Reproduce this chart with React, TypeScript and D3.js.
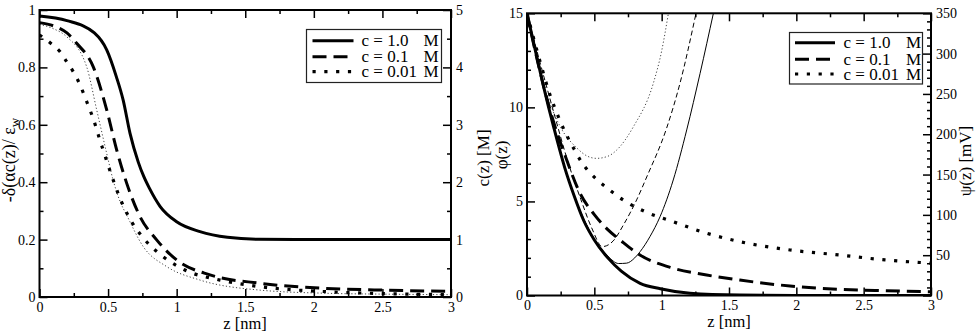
import React, { useEffect, useRef } from "react";
import * as d3 from "d3";

const W = 978;
const H = 334;
const FONT = "'Liberation Serif', 'Times New Roman', serif";

// ---------- left panel: dielectric decrement and concentration ----------
const zSolidL = [0, 0.2, 0.4, 0.49, 0.56, 0.61, 0.66, 0.72, 0.76, 0.8, 0.88, 1.0, 1.17, 1.37, 1.6, 2, 2.5, 3];
const epsSolid = [0.979, 0.963, 0.92, 0.861, 0.768, 0.686, 0.57, 0.47, 0.42, 0.38, 0.315, 0.262, 0.228, 0.208, 0.201, 0.2, 0.2, 0.2];

const zDashL = [0, 0.1, 0.2, 0.271, 0.392, 0.49, 0.563, 0.636, 0.733, 0.854, 1.0, 1.243, 1.607, 2.09, 2.5, 3];
const epsDash = [0.956, 0.945, 0.92, 0.884, 0.802, 0.652, 0.512, 0.396, 0.28, 0.199, 0.129, 0.077, 0.048, 0.03, 0.024, 0.02];

const zDotL = [0, 0.077, 0.149, 0.198, 0.246, 0.288, 0.324, 0.356, 0.388, 0.417, 0.441, 0.47, 0.497, 0.526, 0.587, 0.672, 0.769, 0.903, 1.06, 1.316, 1.607, 2.09, 2.5, 3];
const epsDot = [0.913, 0.886, 0.855, 0.82, 0.785, 0.747, 0.706, 0.666, 0.626, 0.584, 0.545, 0.504, 0.463, 0.423, 0.344, 0.262, 0.199, 0.14, 0.094, 0.059, 0.036, 0.0185, 0.012, 0.008];

const zThinL = [0, 0.1, 0.198, 0.344, 0.417, 0.49, 0.538, 0.59, 0.636, 0.757, 0.927, 1.17, 1.607, 2.09, 2.5, 3];
const epsThin = [0.95, 0.935, 0.907, 0.802, 0.652, 0.5, 0.405, 0.33, 0.285, 0.175, 0.106, 0.059, 0.024, 0.013, 0.01, 0.008];

// ---------- right panel: reduced potential ----------
const zSolidR = [0, 0.05, 0.12, 0.2, 0.28, 0.35, 0.42, 0.5, 0.6, 0.7, 0.84, 0.99, 1.21, 1.58, 2, 3];
const phiSolid = [15, 13.4, 11.2, 8.9, 6.8, 5.3, 4.0, 2.95, 2.0, 1.3, 0.65, 0.36, 0.12, 0.02, 0.0, 0.0];

const zDashR = [0, 0.08, 0.171, 0.295, 0.394, 0.5, 0.6, 0.7, 0.839, 1.086, 1.334, 1.58, 1.953, 2.324, 2.67, 3];
const phiDash = [15, 12.4, 9.86, 7.2, 5.43, 4.3, 3.5, 2.9, 2.15, 1.45, 1.09, 0.82, 0.505, 0.33, 0.255, 0.2];

const zDotR = [0, 0.097, 0.171, 0.233, 0.282, 0.356, 0.406, 0.46, 0.522, 0.592, 0.661, 0.889, 1.062, 1.334, 1.582, 1.953, 2.324, 2.66, 3];
const phiDot = [15, 12.43, 10.66, 9.5, 8.7, 7.7, 7.08, 6.58, 6.14, 5.73, 5.34, 4.42, 3.98, 3.31, 2.86, 2.42, 2.15, 1.89, 1.72];

const zThinSolidR = [0, 0.12, 0.2, 0.28, 0.35, 0.42, 0.5, 0.6, 0.68, 0.74, 0.8, 0.84, 0.913, 0.988, 1.086, 1.186, 1.285, 1.384];
const phiThinSolid = [15, 11.2, 8.9, 6.8, 5.3, 4.1, 3.0, 2.1, 1.7, 1.72, 2.0, 2.33, 3.13, 4.19, 6.14, 8.8, 11.8, 15];

const zThinDashR = [0, 0.1, 0.2, 0.3, 0.4, 0.48, 0.56, 0.64, 0.72, 0.814, 0.889, 1.037, 1.136, 1.255];
const phiThinDash = [15, 12.3, 9.7, 7.2, 5.1, 3.6, 2.6, 2.9, 3.8, 5.08, 6.3, 8.9, 11.28, 15];

const zThinDotR = [0, 0.047, 0.121, 0.245, 0.369, 0.45, 0.517, 0.6, 0.666, 0.79, 0.938, 1.0, 1.05];
const phiThinDot = [15, 13.4, 11.3, 9.0, 7.85, 7.4, 7.29, 7.4, 7.73, 8.97, 11.28, 13.0, 15];

// ---------- axes ----------
const zTicks = [0, 0.5, 1, 1.5, 2, 2.5, 3];
const zMinor = [0.25, 0.75, 1.25, 1.75, 2.25, 2.75];
const epsTicks = [0, 0.2, 0.4, 0.6, 0.8, 1];
const epsMinor = [0.1, 0.3, 0.5, 0.7, 0.9];
const cTicks = [0, 1, 2, 3, 4, 5];
const cMinor = [0.5, 1.5, 2.5, 3.5, 4.5];
const phiTicks = [0, 5, 10, 15];
const phiMinor = [1, 2, 3, 4, 6, 7, 8, 9, 11, 12, 13, 14];
const psiTicks = [0, 50, 100, 150, 200, 250, 300, 350];
const psiMinor = d3.range(10, 350, 10).filter((v) => v % 50 !== 0);

const legendLabels = ["c = 1.0", "c = 0.1", "c = 0.01"];
const legendUnit = "M";

type Sel = d3.Selection<SVGGElement, unknown, null, undefined>;

const styles = {
  solid: { w: 3, dash: null as string | null, color: "#000" },
  dash: { w: 3, dash: "14,7", color: "#000" },
  dot: { w: 3.2, dash: "3.2,8.6", color: "#000" },
  thinSolid: { w: 1, dash: null as string | null, color: "#000" },
  thinDash: { w: 1, dash: "5,3", color: "#000" },
  thinDot: { w: 1, dash: "1.2,2.2", color: "#444" },
};

function fmt(v: number) {
  return String(v);
}

function drawAxis(
  g: Sel,
  axisGen: d3.Axis<d3.NumberValue>,
  cls: string,
  transform: string
) {
  const a = g.append("g").attr("class", cls).attr("transform", transform).call(axisGen as any);
  a.attr("font-family", FONT).attr("font-size", 14);
  a.select(".domain").remove();
  a.selectAll("line").attr("stroke", "#000").attr("stroke-width", 1.5);
  a.selectAll("text").attr("fill", "#000");
  return a;
}

function frameAxes(
  g: Sel,
  x: d3.ScaleLinear<number, number>,
  yL: d3.ScaleLinear<number, number>,
  yR: d3.ScaleLinear<number, number>,
  yLTicks: number[],
  yLMinor: number[],
  yRTicks: number[],
  yRMinor: number[],
  padX: number
) {
  const [x0, x1] = x.range();
  const [yb, yt] = yL.range();
  const MAJ = 8;
  const MIN = 4;
  // bottom
  drawAxis(g, d3.axisBottom(x).tickValues(zTicks).tickSize(-MAJ).tickPadding(padX).tickFormat((d) => fmt(+d)), "xb", `translate(0,${yb})`);
  drawAxis(g, d3.axisBottom(x).tickValues(zMinor).tickSize(-MIN).tickFormat(() => ""), "xbm", `translate(0,${yb})`);
  // top
  drawAxis(g, d3.axisTop(x).tickValues(zTicks).tickSize(-MAJ).tickFormat(() => ""), "xt", `translate(0,${yt})`);
  drawAxis(g, d3.axisTop(x).tickValues(zMinor).tickSize(-MIN).tickFormat(() => ""), "xtm", `translate(0,${yt})`);
  // left
  drawAxis(g, d3.axisLeft(yL).tickValues(yLTicks).tickSize(-MAJ).tickPadding(4).tickFormat((d) => fmt(+d)), "yl", `translate(${x0},0)`);
  drawAxis(g, d3.axisLeft(yL).tickValues(yLMinor).tickSize(-MIN).tickFormat(() => ""), "ylm", `translate(${x0},0)`);
  // right
  drawAxis(g, d3.axisRight(yR).tickValues(yRTicks).tickSize(-MAJ).tickPadding(5).tickFormat((d) => fmt(+d)), "yr", `translate(${x1},0)`);
  drawAxis(g, d3.axisRight(yR).tickValues(yRMinor).tickSize(-MIN).tickFormat(() => ""), "yrm", `translate(${x1},0)`);
  // frame
  g.append("rect")
    .attr("x", x0)
    .attr("y", yt)
    .attr("width", x1 - x0)
    .attr("height", yb - yt)
    .attr("fill", "none")
    .attr("stroke", "#000")
    .attr("stroke-width", 2);
}

function drawCurve(
  g: Sel,
  x: d3.ScaleLinear<number, number>,
  y: d3.ScaleLinear<number, number>,
  xs: number[],
  ys: number[],
  st: { w: number; dash: string | null; color: string },
  clipId: string
) {
  const pts = xs.map((v, i) => [v, ys[i]] as [number, number]);
  const line = d3
    .line<[number, number]>()
    .x((d) => x(d[0]))
    .y((d) => y(d[1]))
    .curve(d3.curveMonotoneX);
  const p = g
    .append("path")
    .attr("d", line(pts))
    .attr("fill", "none")
    .attr("stroke", st.color)
    .attr("stroke-width", st.w)
    .attr("clip-path", `url(#${clipId})`);
  if (st.dash) p.attr("stroke-dasharray", st.dash);
}

function txt(g: Sel, x: number, y: number, size: number, s: string, anchor = "start") {
  return g
    .append("text")
    .attr("x", x)
    .attr("y", y)
    .attr("text-anchor", anchor)
    .attr("font-family", FONT)
    .attr("font-size", size)
    .attr("fill", "#000")
    .text(s);
}

function drawLegend(g: Sel, bx: number, by: number, bw: number, bh: number, lineX0: number, lineX1: number, textX: number, unitX: number, rowYs: number[]) {
  g.append("rect")
    .attr("x", bx)
    .attr("y", by)
    .attr("width", bw)
    .attr("height", bh)
    .attr("fill", "#fff")
    .attr("stroke", "#222")
    .attr("stroke-width", 1.2);
  const sts = [styles.solid, styles.dash, styles.dot];
  legendLabels.forEach((lab, i) => {
    const ly = rowYs[i];
    const l = g
      .append("line")
      .attr("x1", lineX0)
      .attr("x2", lineX1)
      .attr("y1", ly)
      .attr("y2", ly)
      .attr("stroke", "#000")
      .attr("stroke-width", sts[i].w);
    if (sts[i].dash) l.attr("stroke-dasharray", sts[i].dash);
    const t = g
      .append("text")
      .attr("y", ly + 5.5)
      .attr("font-family", FONT)
      .attr("font-size", 17)
      .attr("fill", "#000");
    t.append("tspan").attr("x", textX).text(lab);
    t.append("tspan").attr("x", unitX).attr("text-anchor", "end").text(legendUnit);
  });
}

function vLabel(g: Sel, x: number, y: number, size: number) {
  return g
    .append("text")
    .attr("transform", `translate(${x},${y}) rotate(-90)`)
    .attr("text-anchor", "middle")
    .attr("font-family", FONT)
    .attr("font-size", size)
    .attr("fill", "#000");
}

export default function App() {
  const ref = useRef<SVGSVGElement>(null);

  useEffect(() => {
    const svg = d3.select(ref.current!);
    svg.selectAll("*").remove();
    const root = svg.append("g") as unknown as Sel;
    const defs = svg.append("defs");

    // ----- left panel -----
    const xL = d3.scaleLinear().domain([0, 3]).range([39.5, 451]);
    const yEps = d3.scaleLinear().domain([0, 1]).range([297, 10]);
    const yC = d3.scaleLinear().domain([0, 5]).range([297, 10]);
    defs.append("clipPath").attr("id", "clipL").append("rect").attr("x", 39.5).attr("y", 10).attr("width", 411.5).attr("height", 287);

    const gL = root.append("g") as unknown as Sel;
    drawCurve(gL, xL, yEps, zThinL, epsThin, styles.thinDot, "clipL");
    drawCurve(gL, xL, yEps, zDotL, epsDot, styles.dot, "clipL");
    drawCurve(gL, xL, yEps, zDashL, epsDash, styles.dash, "clipL");
    drawCurve(gL, xL, yEps, zSolidL, epsSolid, styles.solid, "clipL");
    frameAxes(gL, xL, yEps, yC, epsTicks, epsMinor, cTicks, cMinor, 5);
    drawLegend(gL, 306.5, 29.5, 135, 53, 312.5, 353.5, 361.5, 438.5, [40.7, 56.7, 71.7]);

    const lblL = vLabel(gL, 15, 160, 18);
    lblL.append("tspan").text("-δ(αc(z)/ ε");
    lblL.append("tspan").attr("font-size", 13).attr("dy", 4).text("w");
    vLabel(gL, 489, 158, 17).text("c(z) [M]");
    txt(gL, 245, 328.5, 16.5, "z [nm]", "middle");

    // ----- right panel -----
    const xR = d3.scaleLinear().domain([0, 3]).range([527, 931]);
    const yPhi = d3.scaleLinear().domain([0, 15]).range([295.5, 13.3]);
    const yPsi = d3.scaleLinear().domain([0, 350]).range([295.5, 13.3]);
    defs.append("clipPath").attr("id", "clipR").append("rect").attr("x", 527).attr("y", 13.3).attr("width", 404).attr("height", 282.2);

    const gR = root.append("g") as unknown as Sel;
    drawCurve(gR, xR, yPhi, zThinDotR, phiThinDot, styles.thinDot, "clipR");
    drawCurve(gR, xR, yPhi, zThinDashR, phiThinDash, styles.thinDash, "clipR");
    drawCurve(gR, xR, yPhi, zThinSolidR, phiThinSolid, styles.thinSolid, "clipR");
    drawCurve(gR, xR, yPhi, zDotR, phiDot, styles.dot, "clipR");
    drawCurve(gR, xR, yPhi, zDashR, phiDash, styles.dash, "clipR");
    drawCurve(gR, xR, yPhi, zSolidR, phiSolid, styles.solid, "clipR");
    frameAxes(gR, xR, yPhi, yPsi, phiTicks, phiMinor, psiTicks, psiMinor, 5);
    drawLegend(gR, 789.5, 32.5, 133, 51.5, 795, 835, 843.5, 921, [42.7, 59.3, 74]);

    vLabel(gR, 507, 155, 17).text("φ(z)");
    vLabel(gR, 971, 161, 17).text("ψ(z) [mV]");
    txt(gR, 729, 326.5, 16.5, "z [nm]", "middle");
  }, []);

  return (
    <svg
      ref={ref}
      width={W}
      height={H}
      style={{ position: "absolute", left: 0, top: 0, background: "#fff" }}
    />
  );
}
